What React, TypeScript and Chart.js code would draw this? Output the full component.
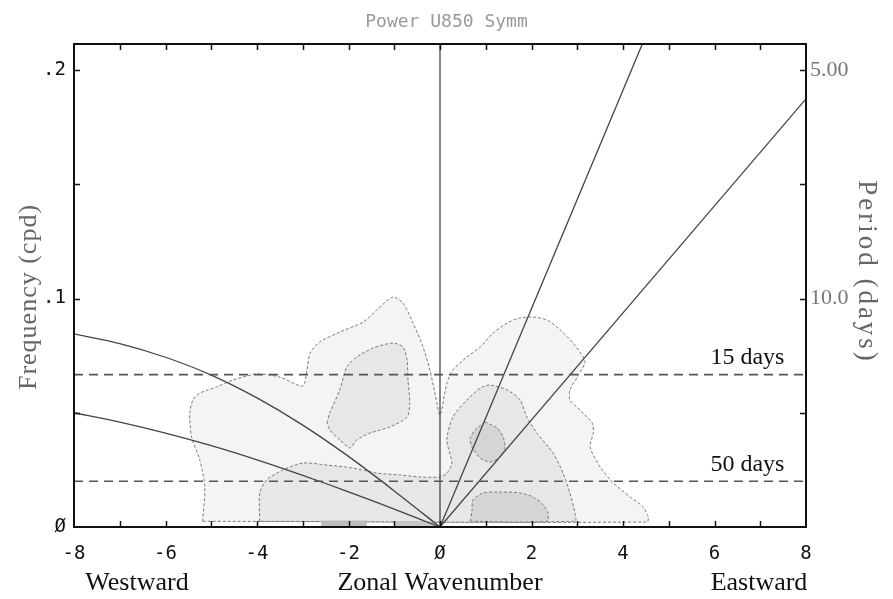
import React, { useEffect, useRef } from 'react';
import { Chart, registerables } from 'chart.js';

Chart.register(...registerables);

// ---------- data ----------
const chartTitle = 'Power U850 Symm';
const freqMin = 0;
const freqMax = 0.2114;
const waveMin = -8;
const waveMax = 8;

const waveTicks = [-8, -7, -6, -5, -4, -3, -2, -1, 0, 1, 2, 3, 4, 5, 6, 7, 8];
const waveLabelValues = [-8, -6, -4, -2, 0, 2, 4, 6, 8];
const waveLabelTexts = ['-8', '-6', '-4', '-2', 'Ø', '2', '4', '6', '8'];

const freqTicks = [0, 0.05, 0.1, 0.15, 0.2];
const freqLabelValues = [0, 0.1, 0.2];
const freqLabelTexts = ['Ø', '.1', '.2'];
const periodLabelValues = [0.1, 0.2];
const periodLabelTexts = ['10.0', '5.00'];

// reference period lines (days) and their frequencies (cpd)
const refPeriodNames = ['15 days', '50 days'];
const refPeriodFreqs = [0.0667, 0.02];

// Kelvin wave lines (h = 50 m, h = 12 m)
const kelvin50: [number, number][] = [[0, 0], [5, 0.239]];
const kelvin12: [number, number][] = [[0, 0], [8, 0.1874]];

// equatorial Rossby n=1 curves
const erWave = [0, -1, -2, -3, -4, -5, -6, -7, -8];
const er50Freq = [0, 0.0158, 0.0309, 0.0446, 0.0565, 0.0665, 0.0743, 0.0803, 0.0845];
const er12Freq = [0, 0.0078, 0.0154, 0.0226, 0.0294, 0.0356, 0.0411, 0.0459, 0.05];

// vertical zero line
const zeroLine: [number, number][] = [[0, 0], [0, 0.2114]];

// contour level 1 (outer)
const outerContour: [number, number][] = [
  [-5.19, 0.0025], [-5.14, 0.0175], [-5.25, 0.0293], [-5.43, 0.0394], [-5.47, 0.0499],
  [-5.4, 0.0556], [-5.25, 0.0586], [-4.88, 0.0613], [-4.53, 0.0643], [-4.0, 0.067],
  [-3.5, 0.0656], [-3.0, 0.0617], [-2.91, 0.0687], [-2.84, 0.0761], [-2.63, 0.081],
  [-2.19, 0.0853], [-1.68, 0.0897], [-1.38, 0.095], [-1.03, 0.1007], [-0.81, 0.098],
  [-0.59, 0.0893], [-0.37, 0.0788], [-0.22, 0.0687], [-0.11, 0.0586], [0, 0.049],
  [0.15, 0.063], [0.28, 0.0687], [0.59, 0.0744], [0.88, 0.0788], [1.16, 0.0849],
  [1.47, 0.0893], [1.75, 0.0915], [2.04, 0.0919], [2.34, 0.0906], [2.63, 0.0862],
  [2.91, 0.0805], [3.13, 0.0744], [3.17, 0.0718], [3.0, 0.0656], [2.84, 0.06],
  [2.84, 0.0556], [3.06, 0.0512], [3.33, 0.0455], [3.35, 0.0411], [3.28, 0.035],
  [3.5, 0.0263], [3.79, 0.0193], [4.16, 0.0131], [4.44, 0.0088], [4.55, 0.0044],
  [4.53, 0.0022], [-5.19, 0.0025],
];

// contour level 2
const midLeftBlob: [number, number][] = [
  [-2.47, 0.0455], [-2.41, 0.0499], [-2.19, 0.06], [-2.04, 0.07], [-1.82, 0.0744],
  [-1.47, 0.0783], [-1.03, 0.0805], [-0.81, 0.0788], [-0.72, 0.0731], [-0.7, 0.0643],
  [-0.66, 0.0543], [-0.72, 0.0481], [-1.09, 0.0438], [-1.53, 0.0411], [-1.82, 0.0381],
  [-1.97, 0.0346], [-2.19, 0.0381], [-2.41, 0.0425], [-2.47, 0.0455],
];
const midBand: [number, number][] = [
  [-3.94, 0.0025], [-3.94, 0.0149], [-3.79, 0.0206], [-3.44, 0.0249], [-3.0, 0.028],
  [-2.47, 0.0271], [-1.9, 0.0258], [-1.38, 0.0236], [-0.88, 0.0228], [-0.44, 0.0219],
  [0, 0.0219], [0.15, 0.0236], [0.26, 0.028], [0.15, 0.0381], [0.28, 0.0481],
  [0.59, 0.0556], [0.88, 0.0608], [1.09, 0.0621], [1.47, 0.06], [1.75, 0.0556],
  [1.9, 0.0481], [2.12, 0.0411], [2.47, 0.0324], [2.69, 0.0236], [2.84, 0.0149],
  [2.95, 0.0061], [2.95, 0.0025], [-3.94, 0.0025],
];

// contour level 3
const darkUpperBlob: [number, number][] = [
  [0.98, 0.046], [1.25, 0.0433], [1.38, 0.0394], [1.42, 0.035], [1.31, 0.0306],
  [1.09, 0.0284], [0.88, 0.0302], [0.7, 0.035], [0.66, 0.0389], [0.77, 0.0425], [0.98, 0.046],
];
const darkLowerBlob: [number, number][] = [
  [0.66, 0.0025], [0.7, 0.0074], [0.72, 0.0118], [0.94, 0.0149], [1.31, 0.0153],
  [1.75, 0.0149], [2.04, 0.0131], [2.26, 0.0096], [2.36, 0.0061], [2.34, 0.0025], [0.66, 0.0025],
];
const darkStripA: [number, number][] = [
  [-2.6, 0], [-2.6, 0.0028], [-1.6, 0.0028], [-1.6, 0], [-2.6, 0],
];
const darkStripB: [number, number][] = [
  [-1.0, 0], [-1.0, 0.0025], [-0.1, 0.0025], [-0.1, 0], [-1.0, 0],
];

// ---------- styles ----------
const fillLight = '#f4f4f4';
const fillMid = '#e7e7e7';
const fillDark = '#d5d5d5';
const contourLine = '#7a7a7a';
const curveColor = '#444';

const toPts = (arr: [number, number][]) => arr.map(([x, y]) => ({ x, y }));

const polygon = (label: string, arr: [number, number][], color: string, order: number, border = true) => ({
  label,
  data: toPts(arr),
  backgroundColor: color,
  borderColor: border ? contourLine : 'rgba(0,0,0,0)',
  borderWidth: border ? 1 : 0,
  borderDash: [3, 2],
  fill: 'shape',
  tension: border ? 0.25 : 0,
  pointRadius: 0,
  order,
});

const curve = (label: string, arr: { x: number; y: number }[], order = 1) => ({
  label,
  data: arr,
  borderColor: curveColor,
  borderWidth: 1.3,
  fill: false,
  tension: 0.3,
  pointRadius: 0,
  order,
});

const annotatePlugin = {
  id: 'annotate',
  afterDraw(chart: any) {
    const { ctx, chartArea: a, scales } = chart;
    const xs = scales.x;
    const ys = scales.y;
    ctx.save();
    // frame
    ctx.strokeStyle = '#111';
    ctx.lineWidth = 2;
    ctx.strokeRect(a.left, a.top, a.right - a.left, a.bottom - a.top);
    // inward tick marks
    ctx.lineWidth = 1.5;
    ctx.beginPath();
    for (const k of waveTicks) {
      if (k === waveMin || k === waveMax) continue;
      const px = Math.round(xs.getPixelForValue(k)) + 0.5;
      ctx.moveTo(px, a.top);
      ctx.lineTo(px, a.top + 6);
      ctx.moveTo(px, a.bottom);
      ctx.lineTo(px, a.bottom - 6);
    }
    for (const f of freqTicks) {
      if (f === 0) continue;
      const py = Math.round(ys.getPixelForValue(f)) + 0.5;
      ctx.moveTo(a.left, py);
      ctx.lineTo(a.left + 6, py);
      ctx.moveTo(a.right, py);
      ctx.lineTo(a.right - 6, py);
    }
    ctx.stroke();

    // reference period labels
    ctx.fillStyle = '#111';
    ctx.font = "24px 'Liberation Serif'";
    ctx.textAlign = 'center';
    ctx.textBaseline = 'middle';
    refPeriodNames.forEach((name, i) => {
      const py = ys.getPixelForValue(refPeriodFreqs[i]);
      ctx.fillText(name, xs.getPixelForValue(6.72), py - 17);
    });

    // bottom labels
    ctx.font = "26px 'Liberation Serif'";
    ctx.fillText('Westward', 137, 583);
    ctx.fillText('Zonal Wavenumber', 440, 583);
    ctx.fillText('Eastward', 759, 583);

    // axis titles
    ctx.fillStyle = '#666';
    ctx.save();
    ctx.translate(29, 297);
    ctx.rotate(-Math.PI / 2);
    ctx.font = "26px 'Liberation Serif'";
    (ctx as any).letterSpacing = '1px';
    ctx.fillText('Frequency (cpd)', 0, 0);
    ctx.restore();
    ctx.save();
    ctx.translate(866, 272);
    ctx.rotate(Math.PI / 2);
    ctx.font = "27px 'Liberation Serif'";
    (ctx as any).letterSpacing = '3px';
    ctx.fillText('Period (days)', 0, 0);
    ctx.restore();
    ctx.restore();
  },
};

export default function App() {
  const ref = useRef<HTMLCanvasElement>(null);
  useEffect(() => {
    if (!ref.current) return;
    const datasets: any[] = [
      polygon('outer', outerContour, fillLight, 20),
      polygon('mid left', midLeftBlob, fillMid, 15),
      polygon('mid band', midBand, fillMid, 15),
      polygon('dark upper', darkUpperBlob, fillDark, 10),
      polygon('dark lower', darkLowerBlob, fillDark, 10),
      polygon('dark strip a', darkStripA, '#bdbdbd', 9, false),
      polygon('dark strip b', darkStripB, '#c8c8c8', 9, false),
      curve('zero', toPts(zeroLine)),
      curve('Kelvin h=50', toPts(kelvin50)),
      curve('Kelvin h=12', toPts(kelvin12)),
      curve('ER h=50', erWave.map((x, i) => ({ x, y: er50Freq[i] }))),
      curve('ER h=12', erWave.map((x, i) => ({ x, y: er12Freq[i] }))),
      ...refPeriodFreqs.map((f, i) => ({
        label: refPeriodNames[i],
        data: [{ x: waveMin, y: f }, { x: waveMax, y: f }],
        borderColor: '#555',
        borderWidth: 1.6,
        borderDash: [9, 6],
        fill: false,
        pointRadius: 0,
        order: 0,
      })),
    ];
    const chart = new Chart(ref.current, {
      type: 'line',
      data: { datasets },
      plugins: [annotatePlugin],
      options: {
        animation: false,
        responsive: true,
        maintainAspectRatio: false,
        events: [],
        layout: { padding: 0 },
        plugins: {
          legend: { display: false },
          tooltip: { enabled: false },
          title: {
            display: true,
            text: chartTitle,
            color: '#999',
            font: { family: "'DejaVu Sans Mono'", size: 18, weight: 'normal' },
            padding: { top: 12, bottom: 10.4 },
          },
        },
        scales: {
          x: {
            type: 'linear',
            position: 'bottom',
            min: waveMin,
            max: waveMax,
            grid: { display: false },
            border: { display: false },
            afterBuildTicks: (s: any) => {
              s.ticks = waveTicks.map((v) => ({ value: v }));
            },
            afterFit: (s: any) => {
              s.height = 72;
            },
            ticks: {
              autoSkip: false,
              maxRotation: 0,
              padding: 8,
              color: '#111',
              font: { family: "'DejaVu Sans Mono'", size: 19 },
              callback: (v: any) => {
                const i = waveLabelValues.indexOf(Number(v));
                return i >= 0 ? waveLabelTexts[i] : '';
              },
            },
          },
          y: {
            type: 'linear',
            position: 'left',
            min: freqMin,
            max: freqMax,
            grid: { display: false },
            border: { display: false },
            afterBuildTicks: (s: any) => {
              s.ticks = freqTicks.map((v) => ({ value: v }));
            },
            afterFit: (s: any) => {
              s.width = 74;
            },
            ticks: {
              autoSkip: false,
              padding: 0,
              color: '#111',
              font: { family: "'DejaVu Sans Mono'", size: 19 },
              callback: (v: any) => {
                const i = freqLabelValues.findIndex((t) => Math.abs(t - Number(v)) < 1e-9);
                return i >= 0 ? freqLabelTexts[i] : '';
              },
            },
          },
          y2: {
            type: 'linear',
            position: 'right',
            min: freqMin,
            max: freqMax,
            grid: { display: false },
            border: { display: false },
            afterBuildTicks: (s: any) => {
              s.ticks = freqTicks.map((v) => ({ value: v }));
            },
            afterFit: (s: any) => {
              s.width = 87;
            },
            ticks: {
              autoSkip: false,
              padding: -4,
              color: '#777',
              font: { family: "'Liberation Serif'", size: 22 },
              callback: (v: any) => {
                const i = periodLabelValues.findIndex((t) => Math.abs(t - Number(v)) < 1e-9);
                return i >= 0 ? periodLabelTexts[i] : '';
              },
            },
          },
        },
      } as any,
    });
    return () => chart.destroy();
  }, []);
  return (
    <div style={{ position: 'absolute', left: 0, top: 0, width: 893, height: 599, background: '#fff' }}>
      <canvas ref={ref} />
    </div>
  );
}
